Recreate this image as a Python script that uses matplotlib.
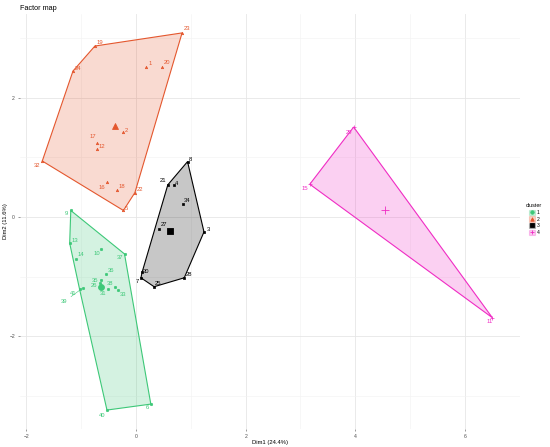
import matplotlib
matplotlib.use("Agg")
import matplotlib.pyplot as plt
import numpy as np
from matplotlib.patches import Polygon, Patch
from matplotlib.lines import Line2D

plt.rcParams["font.family"] = ["Liberation Sans", "DejaVu Sans"]

# cluster data (Dim1, Dim2)
c1_labels = ["9", "13", "14", "10", "37", "36", "35", "26", "31", "38", "33", "41", "39", "40", "6"]
c1_dim1 = [-1.19, -1.21, -1.09, -0.63, -0.21, -0.55, -0.64, -0.66, -0.51, -0.38, -0.33, -1.03, -0.97, -0.53, 0.27]
c1_dim2 = [0.11, -0.44, -0.70, -0.54, -0.62, -0.96, -1.06, -1.10, -1.21, -1.18, -1.23, -1.21, -1.19, -3.24, -3.14]

c2_labels = ["23", "19", "24", "1", "20", "2", "17", "12", "32", "16", "18", "22", "5"]
c2_dim1 = [0.84, -0.75, -1.15, 0.18, 0.48, -0.23, -0.72, -0.71, -1.71, -0.53, -0.35, -0.02, -0.23]
c2_dim2 = [3.09, 2.87, 2.45, 2.52, 2.52, 1.42, 1.25, 1.15, 0.94, 0.58, 0.45, 0.41, 0.11]

c3_labels = ["8", "21", "4", "34", "27", "3", "30", "7", "25", "28"]
c3_dim1 = [0.94, 0.58, 0.69, 0.85, 0.42, 1.24, 0.11, 0.09, 0.33, 0.88]
c3_dim2 = [0.93, 0.54, 0.53, 0.22, -0.20, -0.25, -0.93, -1.02, -1.17, -1.02]

c4_labels = ["29", "15", "11"]
c4_dim1 = [3.97, 3.17, 6.50]
c4_dim2 = [1.51, 0.55, -1.69]

x_ticks = [-2, 0, 2, 4, 6]
y_ticks = [-2, 0, 2]

# label offsets in pixels (dx, dy), default up-right
offsets = {
    "23": (5, 4), "19": (5, 4), "24": (5, 3), "1": (4, 3), "20": (5, 4), "2": (3, 2),
    "17": (-4, 6), "12": (5, 2), "32": (-5, -4), "16": (-5, -5), "18": (5, 4), "22": (5, 3),
    "5": (3, 2), "8": (3, 2), "21": (-5, 4), "4": (3, 2), "34": (4, 3), "27": (5, 4),
    "3": (4, 2), "30": (4, 1), "7": (-4, -4), "25": (4, 3), "28": (5, 3),
    "9": (-4, -3), "13": (5, 3), "14": (5, 4), "10": (-5, -4), "37": (-5, -4), "36": (5, 4),
    "35": (-6, 0), "26": (-6, -3), "31": (-5, -4), "38": (-5, 4), "33": (5, -4),
    "41": (-6, -4), "39": (-19, -14), "40": (-5, -5), "6": (-3, -3),
    "29": (-5, -5), "15": (-5, -4), "11": (-3, -4),
}

clusters = [
    ("1", c1_labels, c1_dim1, c1_dim2, "#3dc878", "o"),
    ("2", c2_labels, c2_dim1, c2_dim2, "#e4572e", "^"),
    ("3", c3_labels, c3_dim1, c3_dim2, "#000000", "s"),
    ("4", c4_labels, c4_dim1, c4_dim2, "#f02cc4", "+"),
]


def convex_hull(pts):
    pts = sorted(set(pts))
    if len(pts) <= 2:
        return pts

    def cross(o, a, b):
        return (a[0] - o[0]) * (b[1] - o[1]) - (a[1] - o[1]) * (b[0] - o[0])

    lower, upper = [], []
    for p in pts:
        while len(lower) >= 2 and cross(lower[-2], lower[-1], p) <= 0:
            lower.pop()
        lower.append(p)
    for p in reversed(pts):
        while len(upper) >= 2 and cross(upper[-2], upper[-1], p) <= 0:
            upper.pop()
        upper.append(p)
    return lower[:-1] + upper[:-1]


fig = plt.figure(figsize=(5.5, 4.47), dpi=100)
ax = fig.add_axes([0.036, 0.040, 0.909, 0.929])

handles = []
for name, labels, xs, ys, col, mk in clusters:
    hull = convex_hull(list(zip(xs, ys)))
    ax.add_patch(Polygon(hull, closed=True, facecolor=col, alpha=0.22, edgecolor="none", zorder=2))
    ax.add_patch(Polygon(hull, closed=True, facecolor="none", edgecolor=col, lw=0.8, zorder=3))
    ax.scatter(xs, ys, marker=mk, s=3 if mk != "+" else 8, color=col, lw=0.5, zorder=4)
    ax.scatter([np.mean(xs)], [np.mean(ys)], marker=mk, s=18 if mk != "+" else 30,
               color=col, lw=0.6, zorder=5)
    for lab, x, y in zip(labels, xs, ys):
        dx, dy = offsets.get(lab, (4, 3))
        arrow = None
        if abs(dx) > 10:
            arrow = dict(arrowstyle="-", color=col, lw=0.4, shrinkA=1, shrinkB=1)
        ax.annotate(lab, (x, y), xytext=(dx, dy), textcoords="offset pixels",
                    ha="center", va="center", fontsize=4.2, color=col,
                    arrowprops=arrow, zorder=6)
    handles.append((Patch(facecolor=col, alpha=0.25, edgecolor=col, lw=0.8),
                    Line2D([], [], marker=mk, color=col, ls="none", markersize=2.5, mew=0.6)))

ax.set_xlim(-2.12, 6.91)
ax.set_ylim(-3.56, 3.41)
ax.set_xticks(x_ticks)
ax.set_yticks(y_ticks)
ax.set_xticks([t + 1 for t in x_ticks], minor=True)
ax.set_yticks([-3, -1, 1, 3], minor=True)
ax.grid(True, which="major", color="#e6e6e6", lw=0.6)
ax.grid(True, which="minor", color="#f2f2f2", lw=0.4)
ax.set_axisbelow(True)
for s in ax.spines.values():
    s.set_visible(False)
ax.tick_params(which="both", length=0, labelsize=3.6, labelcolor="#4d4d4d", pad=2)
ax.tick_params(which="major", length=1.5, color="#4d4d4d", width=0.4)
ax.set_xlabel("Dim1 (24.4%)", fontsize=4.2, labelpad=1)
ax.set_ylabel("Dim2 (11.6%)", fontsize=4.2, labelpad=1)
fig.text(0.036, 0.982, "Factor map", fontsize=5.2, ha="left", va="center")

fig.legend(handles, ["1", "2", "3", "4"], title="cluster", loc="upper left",
           bbox_to_anchor=(0.953, 0.55), frameon=False, fontsize=3.6,
           title_fontsize=4.0, handlelength=1.2, handleheight=1.2,
           labelspacing=0.3, handletextpad=0.5, borderaxespad=0)

fig.savefig("out.png", dpi=100)
